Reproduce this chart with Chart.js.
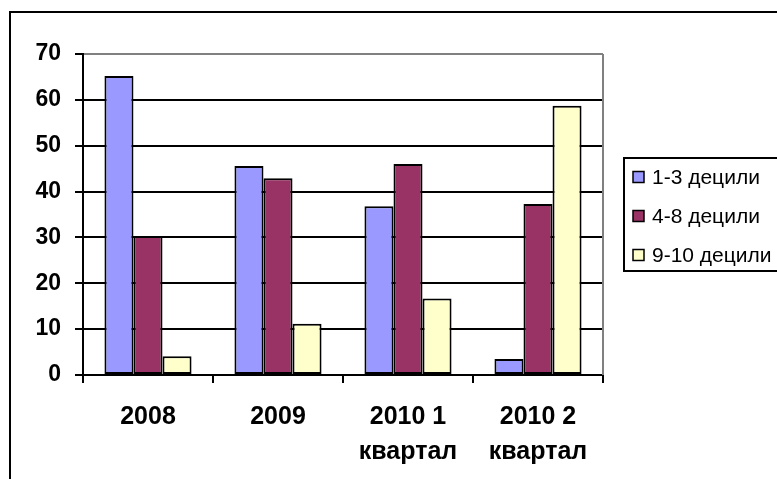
<!DOCTYPE html>
<html><head><meta charset="utf-8">
<script src="https://cdn.jsdelivr.net/npm/chart.js@4.4.0/dist/chart.umd.min.js"></script>
<style>html,body{margin:0;padding:0;background:#fff;} #wrap{position:relative;width:777px;height:479px;overflow:hidden}</style>
</head><body><div id="wrap"><canvas id="c" width="777" height="479"></canvas></div>
<script>
const categories = [['2008'], ['2009'], ['2010 1', 'квартал'], ['2010 2', 'квартал']];
const seriesNames = ['1-3 децили', '4-8 децили', '9-10 децили'];
const low = [65.2, 45.6, 36.8, 3.5];
const mid = [30.3, 42.9, 46.0, 37.3];
const high = [4.1, 11.2, 16.7, 58.7];
const yTicks = [0, 10, 20, 30, 40, 50, 60, 70];
const colors = ['#9999FF', '#993366', '#FFFFCC'];

const FONT = '"Liberation Sans", Arial, sans-serif';

const decor = {
  id: 'decor',
  beforeDraw(chart) {
    const ctx = chart.ctx;
    ctx.save();
    ctx.fillStyle = '#fff';
    ctx.fillRect(0, 0, chart.width, chart.height);
    ctx.strokeStyle = '#000';
    ctx.lineWidth = 2;
    ctx.strokeRect(10, 12, 900, 700);
    ctx.restore();
  },
  afterDraw(chart) {
    const ctx = chart.ctx;
    const a = chart.chartArea;
    ctx.save();
    ctx.strokeStyle = '#808080';
    ctx.lineWidth = 2;
    ctx.beginPath();
    ctx.moveTo(a.right, a.top);
    ctx.lineTo(a.right, a.bottom);
    ctx.stroke();
    // legend
    ctx.strokeStyle = '#000';
    ctx.lineWidth = 2;
    ctx.strokeRect(624, 158, 200, 113);
    ctx.font = '21px ' + FONT;
    ctx.textBaseline = 'middle';
    ctx.textAlign = 'left';
    chart.data.datasets.forEach((ds, i) => {
      const cy = 177 + i * 39;
      ctx.fillStyle = ds.backgroundColor;
      ctx.fillRect(633, cy - 5.5, 11, 11);
      ctx.lineWidth = 1.5;
      ctx.strokeRect(633, cy - 5.5, 11, 11);
      ctx.fillStyle = '#000';
      ctx.fillText(ds.label, 652, cy + 1);
    });
    ctx.restore();
  }
};

new Chart(document.getElementById('c'), {
  type: 'bar',
  data: {
    labels: categories,
    datasets: [
      { label: seriesNames[0], data: low, backgroundColor: colors[0] },
      { label: seriesNames[1], data: mid, backgroundColor: colors[1] },
      { label: seriesNames[2], data: high, backgroundColor: colors[2] }
    ]
  },
  options: {
    responsive: false,
    animation: false,
    devicePixelRatio: 1,
    layout: { padding: { left: 0, top: 54, right: 174, bottom: 0 } },
    datasets: {
      bar: {
        borderColor: '#000', borderWidth: 2, borderSkipped: false,
        categoryPercentage: 0.67, barPercentage: 1
      }
    },
    plugins: { legend: { display: false }, tooltip: { enabled: false }, title: { display: false } },
    scales: {
      x: {
        afterFit(s) { s.height = 104; },
        grid: { offset: true, drawOnChartArea: false, drawTicks: true, tickLength: 8, color: '#000', lineWidth: 2 },
        border: { display: true, color: '#000', width: 2 },
        ticks: { color: '#000', padding: 17, maxRotation: 0, autoSkip: false,
          font: { family: FONT, size: 25, weight: 'bold', lineHeight: 1.4 } }
      },
      y: {
        min: yTicks[0], max: yTicks[yTicks.length - 1],
        afterFit(s) { s.width = 83; },
        afterBuildTicks(s) { s.ticks = yTicks.map(v => ({ value: v })); },
        grid: { color: c => (c.tick && c.tick.value === 70 ? '#808080' : '#000'), tickColor: '#000', lineWidth: 2, tickLength: 8 },
        border: { display: true, color: '#000', width: 2 },
        ticks: { color: '#000', padding: 14, font: { family: FONT, size: 23, weight: 'bold' } }
      }
    }
  },
  plugins: [decor]
});
</script></body></html>
